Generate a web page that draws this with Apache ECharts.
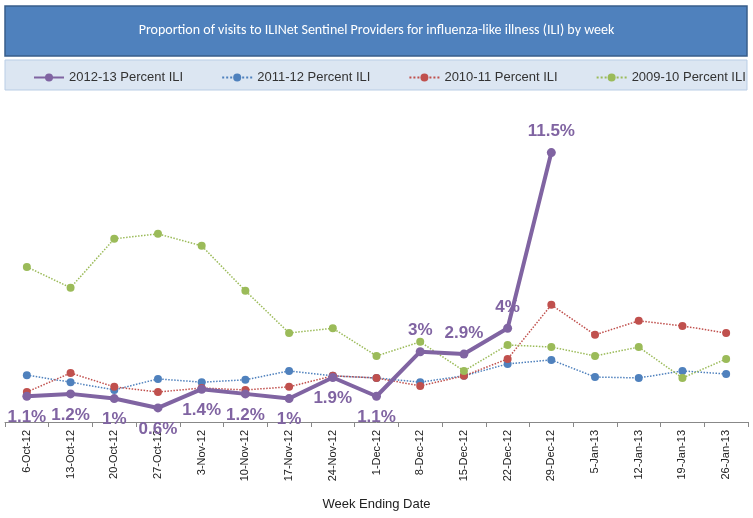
<!DOCTYPE html>
<html><head><meta charset="utf-8">
<script src="https://cdn.jsdelivr.net/npm/echarts@6/dist/echarts.min.js"></script>
<style>html,body{margin:0;padding:0;background:#fff}#c{width:753px;height:518px}</style>
</head><body><div id="c"></div>
<script>
var weeks = ['6-Oct-12','13-Oct-12','20-Oct-12','27-Oct-12','3-Nov-12','10-Nov-12','17-Nov-12','24-Nov-12','1-Dec-12','8-Dec-12','15-Dec-12','22-Dec-12','29-Dec-12','5-Jan-13','12-Jan-13','19-Jan-13','26-Jan-13'];
var ili1213 = [1.1, 1.2, 1, 0.6, 1.4, 1.2, 1, 1.9, 1.1, 3, 2.9, 4, 11.5];
var ili1112 = [2.0, 1.7, 1.37, 1.84, 1.7, 1.8, 2.18, 1.97, 1.88, 1.7, 1.97, 2.48, 2.65, 1.92, 1.88, 2.18, 2.05];
var ili1011 = [1.28, 2.09, 1.5, 1.28, 1.45, 1.37, 1.5, 1.97, 1.88, 1.54, 1.97, 2.69, 5.0, 3.72, 4.32, 4.1, 3.8];
var ili0910 = [6.62, 5.73, 7.82, 8.03, 7.52, 5.6, 3.8, 4.0, 2.82, 3.42, 2.18, 3.29, 3.2, 2.82, 3.2, 1.88, 2.69];

var chart = echarts.init(document.getElementById('c'));

function dotted(name, data, color) {
  return {
    name: name, type: 'line', data: data, symbol: 'circle', symbolSize: 8,
    itemStyle: { color: color },
    lineStyle: { color: color, width: 1.5, type: 'dotted' },
    z: 2
  };
}

// 标签：前9个在下方，后面在上方
var purpleData = ili1213.map(function (v, i) {
  return { value: v, label: { position: i < 9 ? 'bottom' : 'top' } };
});

chart.setOption({
  graphic: [
    { type: 'rect', shape: { x: 5, y: 6, width: 742, height: 50 },
      style: { fill: '#4F81BD', stroke: '#385D8A', lineWidth: 1.5 } },
    { type: 'text', left: 'center', top: 23,
      style: { text: 'Proportion of visits to ILINet Sentinel Providers for influenza-like illness (ILI) by week',
               fill: '#fff', font: '14px Calibri, "Liberation Sans", sans-serif' } },
    { type: 'rect', shape: { x: 5, y: 60, width: 742, height: 30 },
      style: { fill: '#DCE6F2', stroke: '#B9CDE5', lineWidth: 1 } }
  ],
  legend: {
    top: 66, left: 28, itemGap: 38, itemWidth: 30, itemHeight: 10,
    textStyle: { fontSize: 13, color: '#333', fontFamily: '"Liberation Sans", sans-serif' },
    data: ['2012-13 Percent ILI', '2011-12 Percent ILI', '2010-11 Percent ILI', '2009-10 Percent ILI']
  },
  grid: { left: 5, right: 5, top: 94, bottom: 96 },
  xAxis: {
    type: 'category', data: weeks, boundaryGap: true,
    name: 'Week Ending Date', nameLocation: 'middle', nameGap: 76,
    nameTextStyle: { fontSize: 13, color: '#222' },
    axisLine: { lineStyle: { color: '#888' } },
    axisTick: { show: true, alignWithLabel: false, lineStyle: { color: '#888' } },
    axisLabel: { rotate: 90, fontSize: 11, color: '#222', interval: 0 }
  },
  yAxis: { type: 'value', min: 0, max: 14, show: false, splitLine: { show: false } },
  series: [
    {
      name: '2012-13 Percent ILI', type: 'line', data: purpleData,
      symbol: 'circle', symbolSize: 9, z: 5,
      itemStyle: { color: '#8064A2' },
      lineStyle: { color: '#8064A2', width: 4 },
      label: { show: true, formatter: '{c}%', fontSize: 17, fontWeight: 'bold', color: '#8064A2', distance: 8 }
    },
    dotted('2011-12 Percent ILI', ili1112, '#4F81BD'),
    dotted('2010-11 Percent ILI', ili1011, '#C0504D'),
    dotted('2009-10 Percent ILI', ili0910, '#9BBB59')
  ]
});
</script>
</body></html>
